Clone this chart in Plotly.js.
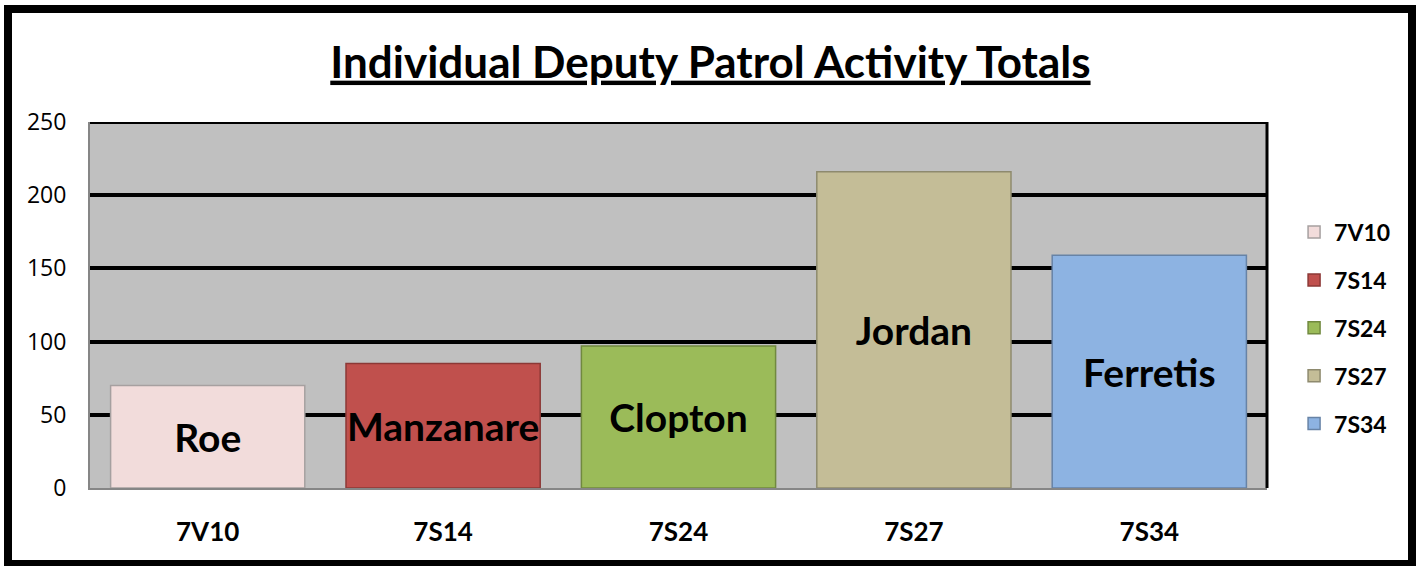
<!DOCTYPE html>
<html>
<head>
<meta charset="utf-8">
<script src="https://cdn.plot.ly/plotly-3.0.1.min.js"></script>
<style>
  html, body { margin: 0; padding: 0; background: #ffffff; }
  #wrap { position: relative; width: 1418px; height: 566px; overflow: hidden; }
  #chart { position: absolute; left: 0; top: 0; width: 1418px; height: 566px; }
  #frame { position: absolute; left: 4px; top: 5px; width: 1396px; height: 547px;
           border: 8px solid #000; pointer-events: none; }
</style>
</head>
<body>
<div id="wrap">
  <div id="chart"></div>
  <div id="frame"></div>
</div>
<script>
const categories = ['7V10', '7S14', '7S24', '7S27', '7S34'];
const names = ['Roe', 'Manzanare', 'Clopton', 'Jordan', 'Ferretis'];
const values = [70, 85, 97, 216, 159];
const colors = ['#f2dcdb', '#c0504d', '#9bbb59', '#c4bd97', '#8db3e2'];
const borders = ['#a6a0a0', '#8c3836', '#71893f', '#8e8a6e', '#6783a6'];
const yTicks = [0, 50, 100, 150, 200, 250];

const traces = categories.map((c, i) => ({
  type: 'bar',
  name: c,
  x: [c],
  y: [values[i]],
  text: [names[i]],
  textposition: 'inside',
  insidetextanchor: 'middle',
  constraintext: 'none',
  cliponaxis: true,
  textfont: { family: 'Lato, "Open Sans", sans-serif', size: 39, color: '#000', weight: 'bold' },
  marker: { color: colors[i], line: { color: borders[i], width: 1.5 } },
  legendgroup: c,
  hoverinfo: 'x+y'
}));

const layout = {
  width: 1418,
  height: 566,
  margin: { l: 90, r: 151, t: 122, b: 78 },
  paper_bgcolor: '#ffffff',
  plot_bgcolor: '#c0c0c0',
  barmode: 'overlay',
  bargap: 0.175,
  title: {
    text: '<u>Individual Deputy Patrol Activity Totals</u>',
    font: { family: 'Lato, "Open Sans", sans-serif', size: 44, color: '#000', weight: 'bold' },
    x: 0.501, xanchor: 'center', xref: 'container',
    y: 0.89, yanchor: 'middle'
  },
  xaxis: {
    type: 'category',
    categoryorder: 'array',
    categoryarray: categories,
    showgrid: false,
    showline: true,
    linecolor: '#868686',
    linewidth: 2,
    ticks: '',
    tickfont: { family: 'Lato, "Open Sans", sans-serif', size: 26, color: '#000', weight: 'bold' },
    ticklabelstandoff: 20
  },
  yaxis: {
    range: [0, 250],
    tickvals: yTicks,
    ticktext: yTicks.map(String),
    showgrid: true,
    gridcolor: '#000000',
    gridwidth: 4,
    zeroline: false,
    showline: true,
    linecolor: '#868686',
    linewidth: 2,
    ticks: '',
    ticklabelstandoff: 17,
    tickfont: { family: '"Open Sans", Lato, sans-serif', size: 23, color: '#000' }
  },
  legend: {
    x: 1.023, xanchor: 'left',
    y: 0.437, yanchor: 'middle',
    font: { family: 'Lato, "Open Sans", sans-serif', size: 23, color: '#000', weight: 'bold' },
    tracegroupgap: 15,
    itemwidth: 30,
    bgcolor: 'rgba(0,0,0,0)'
  },
  shapes: [
    { type: 'line', xref: 'paper', yref: 'paper', x0: 1, x1: 1, y0: 0, y1: 1,
      line: { color: '#000', width: 3 } },
    { type: 'line', xref: 'paper', yref: 'y', x0: 0, x1: 1, y0: yTicks[yTicks.length - 1], y1: yTicks[yTicks.length - 1],
      line: { color: '#000', width: 4 } }
  ],
  showlegend: true
};

Plotly.newPlot('chart', traces, layout, { displayModeBar: false, staticPlot: true });
</script>
</body>
</html>
